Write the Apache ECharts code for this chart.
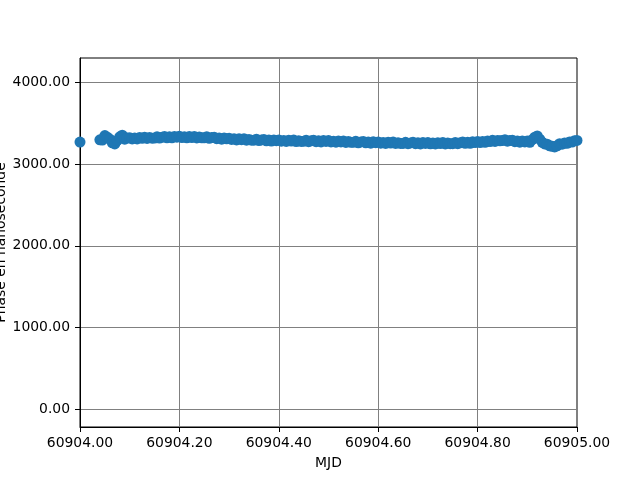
<!DOCTYPE html>
<html>
<head>
<meta charset="utf-8">
<script src="https://cdn.jsdelivr.net/npm/echarts@6/dist/echarts.min.js"></script>
<style>html,body{margin:0;padding:0;background:#fff;}#c{width:640px;height:480px;}</style>
</head>
<body>
<div id="c"></div>
<script>
var yTicks = [0, 1000, 2000, 3000, 4000];

var mjd = [
60904.000,
60904.040,60904.045,60904.050,60904.055,60904.060,60904.065,60904.070,60904.075,60904.080,60904.085,60904.090,60904.095,
60904.100,60904.105,60904.110,60904.115,60904.120,60904.125,60904.130,60904.135,60904.140,60904.145,
60904.150,60904.155,60904.160,60904.165,60904.170,60904.175,60904.180,60904.185,60904.190,60904.195,
60904.200,60904.205,60904.210,60904.215,60904.220,60904.225,60904.230,60904.235,60904.240,60904.245,
60904.250,60904.255,60904.260,60904.265,60904.270,60904.275,60904.280,60904.285,60904.290,60904.295,
60904.300,60904.305,60904.310,60904.315,60904.320,60904.325,60904.330,60904.335,60904.340,60904.345,
60904.350,60904.355,60904.360,60904.365,60904.370,60904.375,60904.380,60904.385,60904.390,60904.395,
60904.400,60904.405,60904.410,60904.415,60904.420,60904.425,60904.430,60904.435,60904.440,60904.445,
60904.450,60904.455,60904.460,60904.465,60904.470,60904.475,60904.480,60904.485,60904.490,60904.495,
60904.500,60904.505,60904.510,60904.515,60904.520,60904.525,60904.530,60904.535,60904.540,60904.545,
60904.550,60904.555,60904.560,60904.565,60904.570,60904.575,60904.580,60904.585,60904.590,60904.595,
60904.600,60904.605,60904.610,60904.615,60904.620,60904.625,60904.630,60904.635,60904.640,60904.645,
60904.650,60904.655,60904.660,60904.665,60904.670,60904.675,60904.680,60904.685,60904.690,60904.695,
60904.700,60904.705,60904.710,60904.715,60904.720,60904.725,60904.730,60904.735,60904.740,60904.745,
60904.750,60904.755,60904.760,60904.765,60904.770,60904.775,60904.780,60904.785,60904.790,60904.795,
60904.800,60904.805,60904.810,60904.815,60904.820,60904.825,60904.830,60904.835,60904.840,60904.845,
60904.850,60904.855,60904.860,60904.865,60904.870,60904.875,60904.880,60904.885,60904.890,60904.895,
60904.900,60904.905,60904.910,60904.915,60904.920,60904.925,60904.930,60904.935,60904.940,60904.945,
60904.950,60904.955,60904.960,60904.965,60904.970,60904.975,60904.980,60904.985,60904.990,60904.995,
60905.000
];

var phase = [
3270,
3298,3295,3350,3330,3305,3262,3248,3290,3335,3355,3305,3320,
3323,3309,3320,3309,3325,3316,3330,3315,3325,3318,
3320,3334,3319,3329,3337,3322,3334,3322,3338,3330,
3341,3325,3335,3322,3337,3326,3339,3321,3331,3322,
3323,3334,3316,3325,3330,3312,3321,3306,3321,3310,
3318,3302,3311,3297,3311,3300,3312,3294,3302,3293,
3293,3305,3288,3297,3303,3286,3296,3282,3297,3287,
3296,3281,3290,3278,3292,3282,3295,3277,3287,3278,
3279,3292,3275,3285,3291,3275,3286,3272,3288,3278,
3288,3272,3281,3269,3283,3272,3284,3266,3276,3267,
3267,3279,3262,3272,3278,3261,3271,3257,3273,3263,
3272,3257,3266,3254,3268,3258,3270,3253,3262,3254,
3254,3267,3250,3260,3267,3251,3261,3248,3264,3254,
3264,3249,3259,3247,3262,3252,3265,3248,3258,3250,
3251,3265,3250,3262,3270,3255,3267,3255,3273,3265,
3276,3264,3276,3267,3284,3277,3292,3278,3290,3285,
3288,3299,3281,3289,3294,3275,3284,3269,3283,3272,
3282,3268,3300,3330,3345,3305,3268,3248,3245,3225,
3218,3210,3225,3250,3245,3258,3255,3272,3270,3285,
3290
];

var points = mjd.map(function (m, i) { return [m, phase[i]]; });

var chart = echarts.init(document.getElementById('c'), null, {renderer: 'canvas'});
var font = 'DejaVu Sans';
chart.setOption({
  animation: false,
  backgroundColor: '#ffffff',
  grid: {left: 80, right: 63, top: 58, bottom: 53, containLabel: false, outerBoundsMode: 'none',
    show: true, borderColor: '#000000', borderWidth: 1, backgroundColor: 'transparent'},
  xAxis: {
    type: 'value', min: 60904, max: 60905, interval: 0.2,
    name: 'MJD', nameLocation: 'middle', nameGap: 29, nameMoveOverlap: false,
    nameTextStyle: {fontFamily: font, fontSize: 13.9, color: '#000'},
    axisLine: {show: true, onZero: false, lineStyle: {color: '#000', width: 1}},
    axisTick: {show: true, inside: false, length: 5, lineStyle: {color: '#000', width: 1}},
    axisLabel: {margin: 9, fontFamily: font, fontSize: 13.9, color: '#000',
      formatter: function (v) { return v.toFixed(2); }},
    splitLine: {show: true, lineStyle: {color: '#808080', width: 1}}
  },
  yAxis: {
    type: 'value', min: -220, max: 4300,
    name: 'Phase en nanoseconde', nameLocation: 'middle', nameGap: 72, nameRotate: 90, nameMoveOverlap: false,
    nameTextStyle: {fontFamily: font, fontSize: 13.9, color: '#000'},
    axisLine: {show: true, onZero: false, lineStyle: {color: '#000', width: 1}},
    axisTick: {show: true, inside: false, length: 5, customValues: yTicks, lineStyle: {color: '#000', width: 1}},
    axisLabel: {margin: 10, fontFamily: font, fontSize: 13.9, color: '#000', customValues: yTicks,
      formatter: function (v) { return v.toFixed(2); }},
    splitLine: {show: true, lineStyle: {color: '#808080', width: 1}}
  },
  series: [{
    type: 'scatter',
    data: points,
    symbol: 'circle',
    symbolSize: 11,
    clip: true,
    itemStyle: {color: '#1f77b4', opacity: 1},
    emphasis: {disabled: true}
  }]
});
</script>
</body>
</html>
